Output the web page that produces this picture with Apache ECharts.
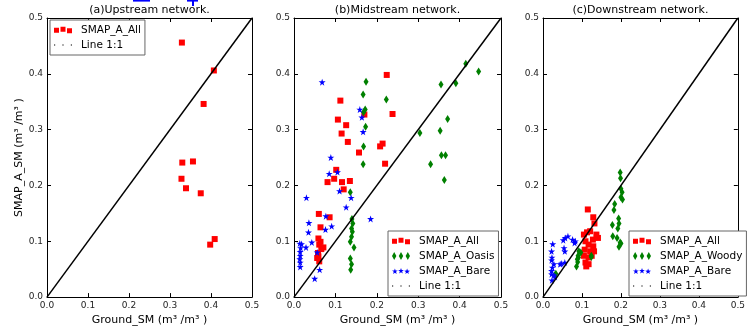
<!DOCTYPE html>
<html>
<head>
<meta charset="utf-8">
<script src="https://cdn.jsdelivr.net/npm/echarts@6/dist/echarts.min.js"></script>
<style>
  html, body { margin: 0; padding: 0; background: #fff; }
  #chart { width: 748px; height: 331px; }
</style>
</head>
<body>
<div id="chart"></div>
<script>
// tick labels / texts
const tickLabels = ['0.0', '0.1', '0.2', '0.3', '0.4', '0.5'];
const panelTitles = ['(a)Upstream network.', '(b)Midstream network.', '(c)Downstream network.'];
const xName = 'Ground_SM (m³ /m³ )';
const yName = 'SMAP_A_SM (m³ /m³ )';
const oneToOne = [[0, 0], [0.5, 0.5]];

// (a) upstream
const upAll = [[0.329, 0.456], [0.407, 0.406], [0.382, 0.346], [0.330, 0.241], [0.356, 0.243],
  [0.328, 0.212], [0.339, 0.195], [0.375, 0.186], [0.409, 0.104], [0.398, 0.094]];

// (b) midstream
const midAll = [[0.224, 0.398], [0.112, 0.352], [0.238, 0.328], [0.170, 0.327], [0.106, 0.318],
  [0.126, 0.308], [0.115, 0.293], [0.130, 0.278], [0.214, 0.275], [0.208, 0.270], [0.157, 0.259],
  [0.220, 0.239], [0.102, 0.228], [0.097, 0.212], [0.081, 0.206], [0.116, 0.206], [0.135, 0.208],
  [0.120, 0.193], [0.060, 0.149], [0.086, 0.143], [0.064, 0.125], [0.059, 0.105], [0.064, 0.099],
  [0.061, 0.094], [0.071, 0.089], [0.066, 0.086], [0.058, 0.079], [0.059, 0.073], [0.056, 0.070],
  [0.061, 0.064]];
const midOasis = [[0.174, 0.386], [0.167, 0.363], [0.223, 0.354], [0.172, 0.336], [0.168, 0.331],
  [0.173, 0.305], [0.168, 0.270], [0.415, 0.418], [0.446, 0.404], [0.355, 0.381], [0.391, 0.383],
  [0.371, 0.319], [0.353, 0.298], [0.304, 0.294], [0.356, 0.254], [0.366, 0.254], [0.167, 0.238],
  [0.330, 0.238], [0.363, 0.210], [0.136, 0.188], [0.140, 0.140], [0.142, 0.132], [0.139, 0.123],
  [0.141, 0.117], [0.139, 0.108], [0.136, 0.099], [0.145, 0.089], [0.136, 0.069], [0.139, 0.059],
  [0.137, 0.049]];
const midBare = [[0.068, 0.385], [0.159, 0.336], [0.164, 0.322], [0.167, 0.296], [0.089, 0.250],
  [0.085, 0.221], [0.105, 0.224], [0.110, 0.190], [0.138, 0.178], [0.030, 0.178], [0.126, 0.161],
  [0.077, 0.145], [0.185, 0.140], [0.036, 0.133], [0.091, 0.127], [0.076, 0.121], [0.035, 0.116],
  [0.043, 0.098], [0.018, 0.095], [0.014, 0.096], [0.029, 0.089], [0.056, 0.080], [0.015, 0.081],
  [0.015, 0.074], [0.014, 0.068], [0.015, 0.062], [0.015, 0.054], [0.062, 0.049], [0.050, 0.033],
  [0.016, 0.088]];

// (c) downstream
const downAll = [[0.115, 0.157], [0.129, 0.143], [0.132, 0.132], [0.113, 0.116], [0.105, 0.112],
  [0.121, 0.118], [0.137, 0.112], [0.141, 0.106], [0.109, 0.100], [0.128, 0.103], [0.117, 0.094],
  [0.129, 0.091], [0.107, 0.085], [0.121, 0.082], [0.131, 0.082], [0.105, 0.074], [0.117, 0.071],
  [0.125, 0.074], [0.109, 0.062], [0.117, 0.059], [0.111, 0.055]];
const downWoody = [[0.198, 0.223], [0.199, 0.213], [0.200, 0.194], [0.203, 0.188], [0.200, 0.179],
  [0.204, 0.175], [0.184, 0.167], [0.182, 0.156], [0.194, 0.141], [0.195, 0.132], [0.178, 0.129],
  [0.192, 0.123], [0.179, 0.109], [0.190, 0.106], [0.198, 0.098], [0.195, 0.090], [0.200, 0.096],
  [0.089, 0.063], [0.086, 0.055], [0.091, 0.071], [0.097, 0.080], [0.124, 0.074], [0.092, 0.082],
  [0.090, 0.074], [0.088, 0.068], [0.033, 0.042], [0.030, 0.039], [0.124, 0.072]];
const downBare = [[0.025, 0.095], [0.022, 0.082], [0.057, 0.106], [0.064, 0.109], [0.052, 0.102],
  [0.076, 0.103], [0.083, 0.100], [0.054, 0.088], [0.056, 0.082], [0.023, 0.071], [0.022, 0.066],
  [0.028, 0.059], [0.044, 0.059], [0.056, 0.062], [0.024, 0.053], [0.022, 0.047], [0.028, 0.039],
  [0.023, 0.030], [0.031, 0.036], [0.022, 0.041], [0.081, 0.097], [0.047, 0.060]];

const font = 'DejaVu Sans';
const RED = '#ff0000', GREEN = '#008000', BLUE = '#0000ff';

const starPath = 'path://M50,0L61.8,35.1L98.8,35.1L68.9,56.9L80.3,92.1L50,70.3L19.7,92.1L31.1,56.9L1.2,35.1L38.2,35.1Z';

// legend icons: three markers like matplotlib scatter legend
function starAt(cx, cy, r) {
  let d = '';
  for (let k = 0; k < 10; k++) {
    const rr = k % 2 === 0 ? r : r * 0.4;
    const a = -Math.PI / 2 + k * Math.PI / 5;
    d += (k === 0 ? 'M' : 'L') + (cx + rr * Math.cos(a)).toFixed(2) + ',' + (cy + rr * Math.sin(a)).toFixed(2);
  }
  return d + 'Z';
}
const sq3 = 'path://M0,1h5v5h-5z M6.5,0h5v5h-5z M13,1.5h5v5h-5z';
const dia3 = 'path://M2.2,0L4.4,4L2.2,8L0,4Z M9,0L11.2,4L9,8L6.8,4Z M15.8,0L18,4L15.8,8L13.6,4Z';
const star3 = 'path://' + starAt(3, 3.5, 3) + ' ' + starAt(9, 3, 3) + ' ' + starAt(15, 3.6, 3);
const dots3 = 'path://M0,0h1.2v1.2h-1.2z M8.4,0h1.2v1.2h-1.2z M16.8,0h1.2v1.2h-1.2z';

const grids = [
  { left: 47, top: 17, width: 205, height: 285 },
  { left: 294, top: 17, width: 207, height: 285 },
  { left: 543, top: 17, width: 207, height: 285 },
];

function baseAxis(i, pos) {
  return {
    type: 'value', gridIndex: i, position: pos, min: 0, max: 0.5, interval: 0.1,
    axisLine: { show: true, onZero: false, lineStyle: { color: '#000', width: 1 } },
    axisTick: { show: true, inside: true, length: 4, lineStyle: { color: '#000' } },
    splitLine: { show: false },
    axisLabel: { show: false },
  };
}
const labelStyle = {
  show: true, fontSize: 9, fontFamily: font, color: '#222', margin: 4,
  formatter: (v) => tickLabels[Math.round(v * 10)],
};

const xAxes = [], yAxes = [];
grids.forEach((g, i) => {
  xAxes.push(Object.assign(baseAxis(i, 'bottom'), {
    axisLabel: labelStyle,
    name: xName, nameLocation: 'middle', nameGap: 16,
    nameTextStyle: { fontSize: 11, fontFamily: font, color: '#000' },
  }));
  xAxes.push(Object.assign(baseAxis(i, 'top'), {
    name: panelTitles[i], nameLocation: 'middle', nameGap: 2,
    nameTextStyle: { fontSize: 11, fontFamily: font, color: '#000' },
  }));
  const yl = Object.assign(baseAxis(i, 'left'), { axisLabel: labelStyle });
  if (i === 0) {
    Object.assign(yl, {
      name: yName, nameLocation: 'middle', nameGap: 20,
      nameTextStyle: { fontSize: 11, fontFamily: font, color: '#000' },
    });
  }
  yAxes.push(yl);
  yAxes.push(baseAxis(i, 'right'));
});

function scatter(name, data, i, symbol, size, color) {
  return {
    name, type: 'scatter', data, xAxisIndex: i * 2, yAxisIndex: i * 2,
    symbol, symbolSize: size, itemStyle: { color, opacity: 1 }, z: 2,
  };
}
function diag(i) {
  return {
    name: 'Line 1:1', type: 'line', data: oneToOne, xAxisIndex: i * 2, yAxisIndex: i * 2,
    symbol: 'none', lineStyle: { color: '#000', width: 1.5 }, itemStyle: { color: '#000' }, z: 5,
  };
}

const series = [
  scatter('SMAP_A_All', upAll, 0, 'rect', 6, RED), diag(0),
  scatter('SMAP_A_All', midAll, 1, 'rect', 6, RED),
  scatter('SMAP_A_Oasis', midOasis, 1, 'diamond', [5, 8], GREEN),
  scatter('SMAP_A_Bare', midBare, 1, starPath, 7, BLUE), diag(1),
  scatter('SMAP_A_All', downAll, 2, 'rect', 6, RED),
  scatter('SMAP_A_Woody', downWoody, 2, 'diamond', [5, 8], GREEN),
  scatter('SMAP_A_Bare', downBare, 2, starPath, 7, BLUE), diag(2),
];

const legendItem = {
  'SMAP_A_All': { icon: sq3, itemStyle: { color: RED } },
  'SMAP_A_Oasis': { icon: dia3, itemStyle: { color: GREEN } },
  'SMAP_A_Woody': { icon: dia3, itemStyle: { color: GREEN } },
  'SMAP_A_Bare': { icon: star3, itemStyle: { color: BLUE } },
  'Line 1:1': { icon: dots3, itemStyle: { color: '#000' } },
};
function legend(names, left, top) {
  return {
    orient: 'vertical', left, top, selectedMode: false,
    padding: [4.5, 4, 4.5, 4], itemGap: 4, itemWidth: 18, itemHeight: 8,
    borderColor: '#666', borderWidth: 1, borderRadius: 0, backgroundColor: '#fff',
    textStyle: { fontSize: 10.5, fontFamily: font, color: '#000', padding: [0, 0, 0, 4] },
    data: names.map((n) => Object.assign({ name: n }, legendItem[n])),
  };
}

const option = {
  animation: false,
  backgroundColor: '#fff',
  grid: grids,
  xAxis: xAxes,
  yAxis: yAxes,
  series,
  legend: [
    legend(['SMAP_A_All', 'Line 1:1'], 50, 20),
    legend(['SMAP_A_All', 'SMAP_A_Oasis', 'SMAP_A_Bare', 'Line 1:1'], 388, 231),
    legend(['SMAP_A_All', 'SMAP_A_Woody', 'SMAP_A_Bare', 'Line 1:1'], 629, 231),
  ],
  // clipped blue fragments above panel (a)
  graphic: [
    { type: 'rect', shape: { x: 133, y: 0, width: 17, height: 1.6 }, style: { fill: BLUE } },
    { type: 'rect', shape: { x: 187, y: 0, width: 11, height: 1.6 }, style: { fill: BLUE } },
    { type: 'rect', shape: { x: 192, y: 0, width: 2, height: 6 }, style: { fill: BLUE } },
  ],
};

const chart = echarts.init(document.getElementById('chart'));
chart.setOption(option);
</script>
</body>
</html>
